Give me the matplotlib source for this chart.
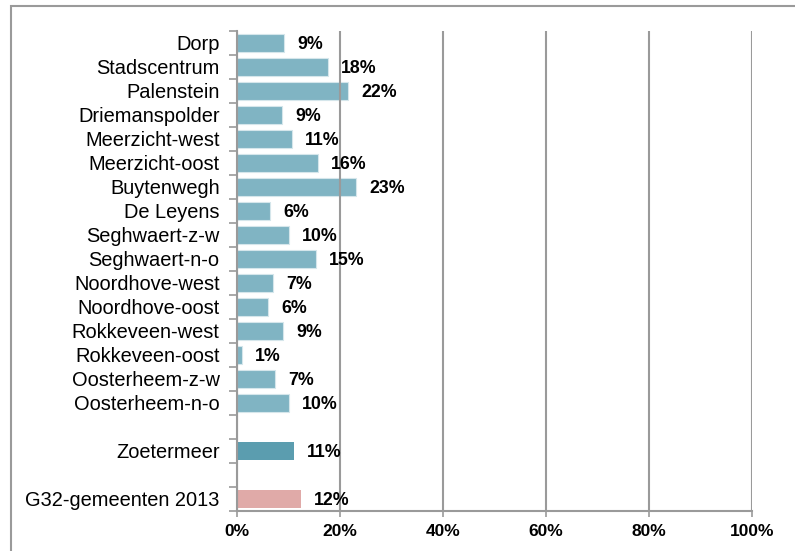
import numpy as np
import matplotlib
matplotlib.use("Agg")
import matplotlib.pyplot as plt
from matplotlib.patches import Rectangle
from matplotlib.ticker import PercentFormatter

plt.rcParams['font.family'] = ['Liberation Sans', 'DejaVu Sans']

# Data: percentage per wijk
wijken = ['Dorp', 'Stadscentrum', 'Palenstein', 'Driemanspolder', 'Meerzicht-west',
          'Meerzicht-oost', 'Buytenwegh', 'De Leyens', 'Seghwaert-z-w', 'Seghwaert-n-o',
          'Noordhove-west', 'Noordhove-oost', 'Rokkeveen-west', 'Rokkeveen-oost',
          'Oosterheem-z-w', 'Oosterheem-n-o']
wijk_pct = [9.1, 17.6, 21.6, 8.8, 10.6, 15.7, 23.1, 6.4, 10.1, 15.3,
            7.0, 6.0, 8.9, 1.0, 7.4, 10.1]
totaal_namen = ['Zoetermeer', 'G32-gemeenten 2013']
totaal_pct = [11.1, 12.4]

kleur_wijk = '#80b4c3'
kleur_totaal = ['#5b9daf', '#e0aaa8']
grijs = '#9a9a9a'

fig = plt.figure(figsize=(7.95, 5.51), dpi=100)
ax = fig.add_axes([237 / 795, 1 - 511 / 551, (752 - 237) / 795, (511 - 31) / 551])

# rows: wijken, blank, Zoetermeer, blank, G32
y_wijk = np.arange(len(wijken))
y_tot = np.array([len(wijken) + 1, len(wijken) + 3])
n_rows = len(wijken) + 4

ax.barh(y_wijk, wijk_pct, height=0.74, color=kleur_wijk, edgecolor='#d5e6eb', linewidth=0.8, zorder=1)
ax.barh(y_tot, totaal_pct, height=0.74, color=kleur_totaal, zorder=1)

for y, v in zip(list(y_wijk) + list(y_tot), wijk_pct + totaal_pct):
    ax.annotate(f"{v:.0f}%", (v, y), xytext=(9.5, -1.3), textcoords='offset points',
                va='center', ha='left', fontsize=12.8, fontweight='bold', zorder=3)

ax.set_xlim(0, 100)
ax.set_ylim(n_rows - 0.5, -0.5)
ax.xaxis.set_major_formatter(PercentFormatter(decimals=0))
ax.set_xticks(np.arange(0, 101, 20))
ax.grid(axis='x', color=grijs, linewidth=1.5, zorder=2)
ax.set_axisbelow(False)

# tick marks on row boundaries, labels at row centres
ax.set_yticks(np.arange(-0.5, n_rows, 1))
ax.set_yticklabels([])
ax.set_yticks(list(y_wijk) + list(y_tot), wijken + totaal_namen, minor=True)
ax.tick_params(axis='y', which='major', length=5.5, width=1.2, color=grijs, direction='out')
ax.tick_params(axis='y', which='minor', length=0, pad=12.5, labelsize=14.4)
ax.tick_params(axis='x', length=4.5, width=1.2, color=grijs, pad=5, labelsize=12.5)
for lab in ax.get_xticklabels():
    lab.set_fontweight('bold')

for s in ['top', 'right']:
    ax.spines[s].set_visible(False)
for s in ['left', 'bottom']:
    ax.spines[s].set_color(grijs)
    ax.spines[s].set_linewidth(1.5)

# outer chart frame
fig.patches.append(Rectangle((11 / 795, -0.1), 1.2, 1 - 6 / 551 + 0.1, transform=fig.transFigure,
                             fill=False, edgecolor=grijs, linewidth=1.5))

fig.savefig('out.png', dpi=100)
